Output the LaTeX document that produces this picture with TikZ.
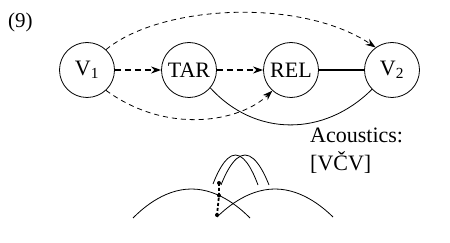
\documentclass[tikz,border=0pt]{standalone}
\usepackage{fontspec}
\setmainfont{Liberation Serif}
\usetikzlibrary{arrows.meta}

\tikzset{
    state/.style={draw, circle, minimum size=55pt, inner sep=0pt,
        line width=0.8pt, font=\rmfamily\fontsize{22}{26}\selectfont},
    dasharrow/.style={line width=1.5pt, dash pattern=on 6pt off 4pt,
        -{Stealth[length=10pt,width=7pt]}},
    thindash/.style={line width=0.8pt, dash pattern=on 5pt off 4pt,
        -{Stealth[length=10pt,width=7pt]}},
    thinline/.style={line width=0.8pt},
    gesture/.style={line width=0.8pt},
    dotline/.style={line width=1.8pt, dash pattern=on 3pt off 2pt},
    dot/.style={circle, fill, inner sep=0pt, minimum size=4pt}
}

\begin{document}
\begin{tikzpicture}[x=1pt, y=-1pt]
    \useasboundingbox (0,0) rectangle (450,243);

    \node[anchor=base west, inner sep=0pt, font=\rmfamily\fontsize{21}{24}\selectfont]
        (num) at (8,28) {(9)};

    \node[state] (v1) at (87,70) {V\textsubscript{1}};
    \node[state] (tar) at (189,70) {TAR};
    \node[state] (rel) at (291,70) {REL};
    \node[state] (v2) at (392,70) {V\textsubscript{2}};

    \draw[dasharrow] (v1) -- (tar);
    \draw[dasharrow] (tar) -- (rel);
    \draw[line width=1.5pt] (rel) -- (v2);

    \draw[thindash] (v1.47) .. controls (160,5) and (300,-3) .. (v2.126);
    \draw[thindash] (v1.-47) .. controls (167,135) and (240,122) .. (rel.-132);
    \draw[thinline] (tar.-40) .. controls (255,137) and (324,137) .. (v2.-136);

    \node[anchor=north west, inner sep=0pt, align=left,
        font=\rmfamily\fontsize{22}{28}\selectfont] (acoustics) at (310,128)
        {Acoustics:\\{[VČV]}};

    % gestures
    \draw[gesture] (133,218) parabola bend (191.5,189) (250,218);
    \draw[gesture] (217,217) parabola bend (275,189) (333,217);
    \draw[gesture] (213,184) parabola bend (235.5,155) (258,185);
    \draw[gesture] (221,185) parabola bend (245,155) (269,185);

    \node[dot] (d1) at (219,183) {};
    \node[dot] (d2) at (219,195.5) {};
    \node[dot] (d3) at (217,215) {};
    \draw[dotline] (d1.center) -- (d2.center) -- (d3.center);
\end{tikzpicture}
\end{document}
